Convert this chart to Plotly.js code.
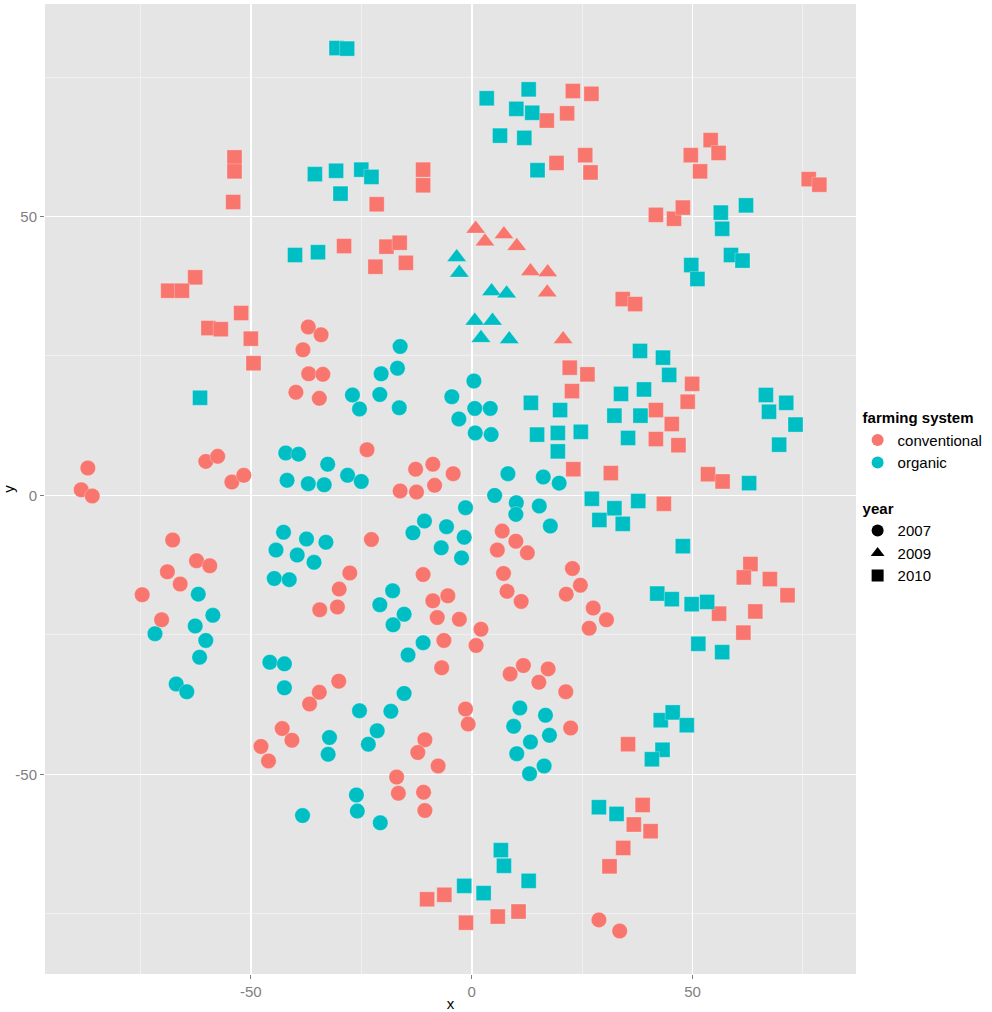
<!DOCTYPE html>
<html>
<head>
<meta charset="utf-8">
<script src="https://cdn.plot.ly/plotly-3.0.1.min.js"></script>
<style>html,body{margin:0;padding:0;background:#fff;}#chart{width:992px;height:1012px;}</style>
</head>
<body>
<div id="chart"></div>
<script>
// conventional, 2007 (circles)
const conv2007_x = [-37.0,-34.1,-38.2,-36.9,-33.7,-39.8,-34.5,-86.9,-88.4,-85.9,-60.2,-57.5,-54.3,-51.6,-23.7,-12.7,-8.8,-16.2,-12.5,-8.4,-4.2,-67.7,-62.3,-59.3,-68.9,-66.0,-74.6,-70.2,-22.7,-27.6,-30.0,-34.4,-30.4,-11.0,-8.8,-5.4,-7.8,-6.3,-6.8,-30.1,-34.5,-36.7,-42.9,-40.7,-47.7,-46.0,-10.6,-12.2,-7.6,-17.0,-16.6,-10.9,-10.6,6.9,10.0,5.8,12.6,7.2,8.0,11.2,22.8,24.6,21.4,27.5,30.5,26.6,-2.8,2.1,1.0,8.7,11.7,17.3,15.2,21.3,-1.4,-0.8,22.4,28.8,33.5];
const conv2007_y = [30.2,28.8,26.1,21.8,21.7,18.5,17.4,4.9,1.0,-0.1,6.1,7.0,2.4,3.6,8.2,4.7,5.6,0.8,0.6,1.8,3.9,-8.0,-11.7,-12.6,-13.7,-15.9,-17.8,-22.3,-7.9,-13.9,-16.8,-20.5,-20.0,-14.2,-18.9,-18.0,-21.9,-26.0,-30.9,-33.3,-35.3,-37.4,-41.8,-43.9,-45.0,-47.6,-43.8,-46.1,-48.5,-50.5,-53.4,-53.2,-56.5,-6.4,-8.2,-9.8,-10.3,-14.0,-17.2,-19.0,-13.1,-16.1,-17.7,-20.2,-22.3,-23.8,-22.2,-24.0,-26.9,-32.0,-30.5,-31.1,-33.5,-35.2,-38.3,-41.0,-41.7,-76.1,-78.1];
// organic, 2007 (circles)
const org2007_x = [-16.2,-16.8,-20.5,-27.0,-25.4,-20.8,-16.4,-4.5,0.5,0.7,4.2,-2.9,0.8,4.4,-42.1,-39.2,-32.6,-41.8,-37.0,-33.4,-28.1,-25.0,8.2,16.2,19.8,5.2,10.1,10.0,15.3,17.8,-1.4,-1.7,-2.3,-5.7,-6.9,-10.7,-13.3,-42.6,-37.4,-33.0,-44.3,-39.5,-35.7,-44.7,-41.3,-17.9,-20.8,-15.3,-17.8,-11.0,-14.4,-15.3,-61.9,-58.6,-62.6,-71.7,-60.2,-61.6,-66.9,-64.5,-45.7,-42.4,-42.4,-25.4,-18.3,-21.4,-23.4,-32.2,-32.5,-26.1,-25.9,-20.7,-38.3,10.9,16.7,9.5,17.6,13.3,10.2,16.4,13.1];
const org2007_y = [26.7,22.8,21.8,18.0,15.5,18.1,15.7,17.7,20.5,15.6,15.6,13.7,11.2,10.9,7.6,7.4,5.6,2.7,2.1,1.9,3.6,2.5,3.9,3.3,2.2,0.0,-1.3,-3.4,-1.9,-5.5,-2.2,-7.5,-11.2,-5.6,-9.4,-4.6,-6.7,-6.6,-7.8,-8.4,-9.8,-10.7,-12.0,-14.9,-15.1,-17.1,-19.6,-21.3,-23.2,-26.4,-28.6,-35.5,-17.7,-21.5,-23.4,-24.8,-26.0,-29.0,-33.8,-35.2,-29.9,-30.2,-34.5,-38.6,-38.7,-42.2,-44.6,-43.4,-46.4,-53.7,-56.6,-58.7,-57.4,-38.1,-39.4,-41.4,-43.0,-44.2,-46.3,-48.5,-49.9];
// 2009 (triangles)
const conv2009_x = [0.9,3.0,7.3,10.2,13.3,17.2,17.1,20.7];
const conv2009_y = [47.8,45.5,46.8,44.7,40.2,40.0,36.4,28.0];
const org2009_x = [-3.4,-2.8,4.5,7.9,0.7,4.7,2.1,8.5];
const org2009_y = [42.7,39.9,36.6,36.2,31.3,31.3,28.2,28.0];
// 2010 (squares)
const conv2010_x = [-53.7,-53.7,-54.0,-11.0,-11.0,-21.5,-28.9,-19.3,-16.3,-21.8,-14.9,-62.6,-68.7,-65.6,-52.2,-59.6,-56.8,-50.0,-49.4,22.9,27.1,21.6,17.0,25.7,19.2,26.9,54.1,55.9,49.6,51.7,76.3,78.7,41.7,45.8,47.8,34.2,37.0,22.2,26.2,22.7,49.9,48.9,41.7,45.3,41.7,46.8,23.0,31.5,53.5,56.8,43.5,63.1,61.6,67.5,71.5,56.0,64.2,61.5,35.4,38.7,36.7,40.5,34.3,31.2,-10.1,-6.2,-1.3,5.9,10.6];
const conv2010_y = [60.6,58.1,52.6,58.4,55.6,52.2,44.7,44.6,45.3,41.0,41.7,39.1,36.7,36.7,32.7,30.0,29.8,28.1,23.7,72.5,72.0,68.5,67.2,61.0,59.6,57.9,63.7,61.4,61.0,58.1,56.7,55.7,50.3,49.6,51.6,35.2,34.3,22.9,21.7,18.7,20.0,16.8,15.3,12.8,10.1,9.0,4.7,4.0,3.8,2.5,-1.5,-12.3,-14.7,-15.0,-17.9,-21.2,-20.8,-24.6,-44.6,-55.5,-59.0,-60.2,-63.2,-66.5,-72.4,-71.6,-76.6,-75.5,-74.6];
const org2010_x = [-30.6,-28.2,-35.5,-30.7,-25.0,-22.7,-29.7,-40.0,-34.8,-61.5,3.4,12.9,10.1,13.7,6.4,11.9,14.9,56.4,62.1,56.7,58.7,61.3,49.7,51.1,38.1,43.3,44.7,33.8,39.0,32.3,38.2,35.4,13.4,20.0,14.8,19.5,24.7,19.5,66.6,71.2,67.3,73.3,69.6,62.8,27.2,32.3,37.7,28.9,34.2,47.8,42.0,45.3,49.8,53.3,51.3,56.7,42.8,45.5,48.7,43.2,40.8,28.8,32.8,6.6,7.3,12.9,-1.7,2.7];
const org2010_y = [80.2,80.1,57.6,58.2,58.4,57.1,54.1,43.1,43.6,17.5,71.2,72.8,69.3,68.6,64.5,64.1,58.3,50.7,52.0,47.8,43.1,42.1,41.3,38.8,25.9,24.7,21.6,18.2,19.0,14.3,14.3,10.3,16.6,15.3,10.9,11.2,11.4,7.9,18.0,16.6,15.0,12.7,9.1,2.2,-0.6,-2.3,-1.0,-4.4,-5.1,-9.1,-17.6,-18.6,-19.5,-19.1,-26.6,-28.1,-40.3,-38.9,-41.2,-45.6,-47.3,-55.9,-57.1,-63.6,-66.4,-69.1,-70.0,-71.3];

const systems = ['conventional', 'organic'];
const years = ['2007', '2009', '2010'];
const xTicks = [-50, 0, 50];
const yTicks = [-50, 0, 50];

const COLORS = {conventional: '#F8766D', organic: '#00BFC4'};
const SYMBOLS = {'2007': 'circle', '2009': 'triangle-up', '2010': 'square'};
const SIZES = {'2007': 15.5, '2009': 17, '2010': 15};
const FONT = 'Liberation Sans, Arial, sans-serif';

const series = [
  {sys: 'conventional', yr: '2007', x: conv2007_x, y: conv2007_y},
  {sys: 'organic', yr: '2007', x: org2007_x, y: org2007_y},
  {sys: 'conventional', yr: '2009', x: conv2009_x, y: conv2009_y},
  {sys: 'organic', yr: '2009', x: org2009_x, y: org2009_y},
  {sys: 'conventional', yr: '2010', x: conv2010_x, y: conv2010_y},
  {sys: 'organic', yr: '2010', x: org2010_x, y: org2010_y}
];

const traces = series.map(s => ({
  type: 'scatter', mode: 'markers', x: s.x, y: s.y, showlegend: false,
  hoverinfo: 'x+y',
  marker: {color: COLORS[s.sys], symbol: SYMBOLS[s.yr], size: SIZES[s.yr],
           line: {width: 0.6, color: 'rgba(255,255,255,0.45)'}}
}));

systems.forEach((sys, i) => traces.push({
  type: 'scatter', mode: 'markers', x: [null], y: [null], name: sys,
  legendgroup: 'system', legendrank: i + 1,
  legendgrouptitle: {text: '<b>farming system</b>', font: {size: 15, color: '#000', family: FONT}},
  marker: {color: COLORS[sys], symbol: 'circle', size: 15}
}));
years.forEach((yr, i) => traces.push({
  type: 'scatter', mode: 'markers', x: [null], y: [null], name: yr,
  legendgroup: 'year', legendrank: 10 + i,
  legendgrouptitle: {text: '<b>year</b>', font: {size: 15, color: '#000', family: FONT}},
  marker: {color: '#000', symbol: SYMBOLS[yr], size: yr === '2009' ? 16 : 15}
}));

const layout = {
  width: 992, height: 1012,
  margin: {l: 45, r: 136, t: 4, b: 38},
  paper_bgcolor: '#FFFFFF', plot_bgcolor: '#E5E5E5',
  font: {family: FONT, size: 15, color: '#000'},
  showlegend: true,
  legend: {x: 1.002, xanchor: 'left', y: 0.5905, yanchor: 'top',
           font: {size: 15, color: '#000', family: FONT},
           tracegroupgap: 23, itemsizing: 'constant', bgcolor: 'rgba(0,0,0,0)'},
  xaxis: {range: [-96.6, 87.0], tickvals: xTicks, ticktext: xTicks.map(String),
          showgrid: true, gridcolor: '#FFFFFF', gridwidth: 1.6, zeroline: false,
          minor: {tickvals: [-75, -25, 25, 75], showgrid: true, gridcolor: '#F2F2F2', gridwidth: 0.8, ticks: ''},
          ticks: 'outside', ticklen: 4, tickwidth: 1, tickcolor: '#7F7F7F',
          tickfont: {size: 15, color: '#7F7F7F', family: FONT},
          showline: false, fixedrange: true,
          title: {text: 'x', font: {size: 15, color: '#000', family: FONT}, standoff: 4}},
  yaxis: {range: [-85.8, 88.1], tickvals: yTicks, ticktext: yTicks.map(String),
          showgrid: true, gridcolor: '#FFFFFF', gridwidth: 1.6, zeroline: false,
          minor: {tickvals: [-75, -25, 25, 75], showgrid: true, gridcolor: '#F2F2F2', gridwidth: 0.8, ticks: ''},
          ticks: 'outside', ticklen: 4, tickwidth: 1, tickcolor: '#7F7F7F',
          tickfont: {size: 15, color: '#7F7F7F', family: FONT},
          showline: false, fixedrange: true,
          title: {text: 'y', font: {size: 15, color: '#000', family: FONT}, standoff: 4}}
};

Plotly.newPlot('chart', traces, layout, {displayModeBar: false, staticPlot: true});
</script>
</body>
</html>
